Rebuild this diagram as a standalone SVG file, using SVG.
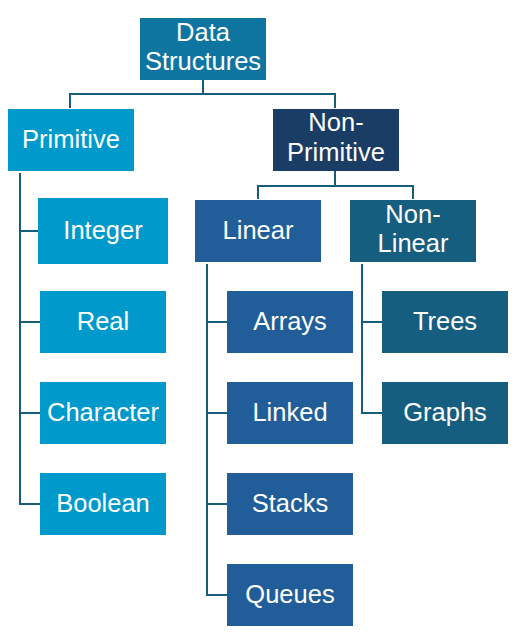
<svg xmlns="http://www.w3.org/2000/svg" width="519" height="634" viewBox="0 0 519 634">
<style>
text{font-family:"Liberation Sans",Arial,sans-serif;font-size:25.5px;fill:#fff;text-anchor:middle}
.c{fill:none;stroke:#185C7C;stroke-width:2}
.root{fill:#0E75A1}.prim{fill:#0099CC}.np{fill:#193D65}.lin{fill:#215E99}.nl{fill:#165E7F}
</style>
<rect width="519" height="634" fill="#fff"/>
<g id="connectors">
<path class="c" d="M203 80V94M70 108V94H335V108"/>
<path class="c" d="M335 171V186M258 199V186H413V199"/>
<path class="c" d="M20 173V504H40M20 231H38M20 322H40M20 413H40"/>
<path class="c" d="M207 264V595H227M207 322H227M207 413H227M207 504H227"/>
<path class="c" d="M362 264V413H382M362 322H382"/>
</g>
<g id="data-structures"><rect class="root" x="140" y="18" width="126" height="62"/><text x="203" y="41">Data<tspan x="203" y="70">Structures</tspan></text></g>
<g id="primitive"><rect class="prim" x="8" y="109" width="126" height="62"/><text x="71" y="148">Primitive</text></g>
<g id="non-primitive"><rect class="np" x="273" y="109" width="126" height="62"/><text x="336" y="131">Non-<tspan x="336" y="161">Primitive</tspan></text></g>
<g id="integer"><rect class="prim" x="38" y="198" width="130" height="66"/><text x="103" y="239">Integer</text></g>
<g id="real"><rect class="prim" x="40" y="291" width="126" height="62"/><text x="103" y="330">Real</text></g>
<g id="character"><rect class="prim" x="40" y="382" width="126" height="62"/><text x="103" y="421">Character</text></g>
<g id="boolean"><rect class="prim" x="40" y="473" width="126" height="62"/><text x="103" y="512">Boolean</text></g>
<g id="linear"><rect class="lin" x="195" y="200" width="126" height="62"/><text x="258" y="239">Linear</text></g>
<g id="non-linear"><rect class="nl" x="350" y="200" width="126" height="62"/><text x="413" y="223">Non-<tspan x="413" y="252">Linear</tspan></text></g>
<g id="arrays"><rect class="lin" x="227" y="291" width="126" height="62"/><text x="290" y="330">Arrays</text></g>
<g id="linked"><rect class="lin" x="227" y="382" width="126" height="62"/><text x="290" y="421">Linked</text></g>
<g id="stacks"><rect class="lin" x="227" y="473" width="126" height="62"/><text x="290" y="512">Stacks</text></g>
<g id="queues"><rect class="lin" x="227" y="564" width="126" height="62"/><text x="290" y="603">Queues</text></g>
<g id="trees"><rect class="nl" x="382" y="291" width="126" height="62"/><text x="445" y="330">Trees</text></g>
<g id="graphs"><rect class="nl" x="382" y="382" width="126" height="62"/><text x="445" y="421">Graphs</text></g>
</svg>
